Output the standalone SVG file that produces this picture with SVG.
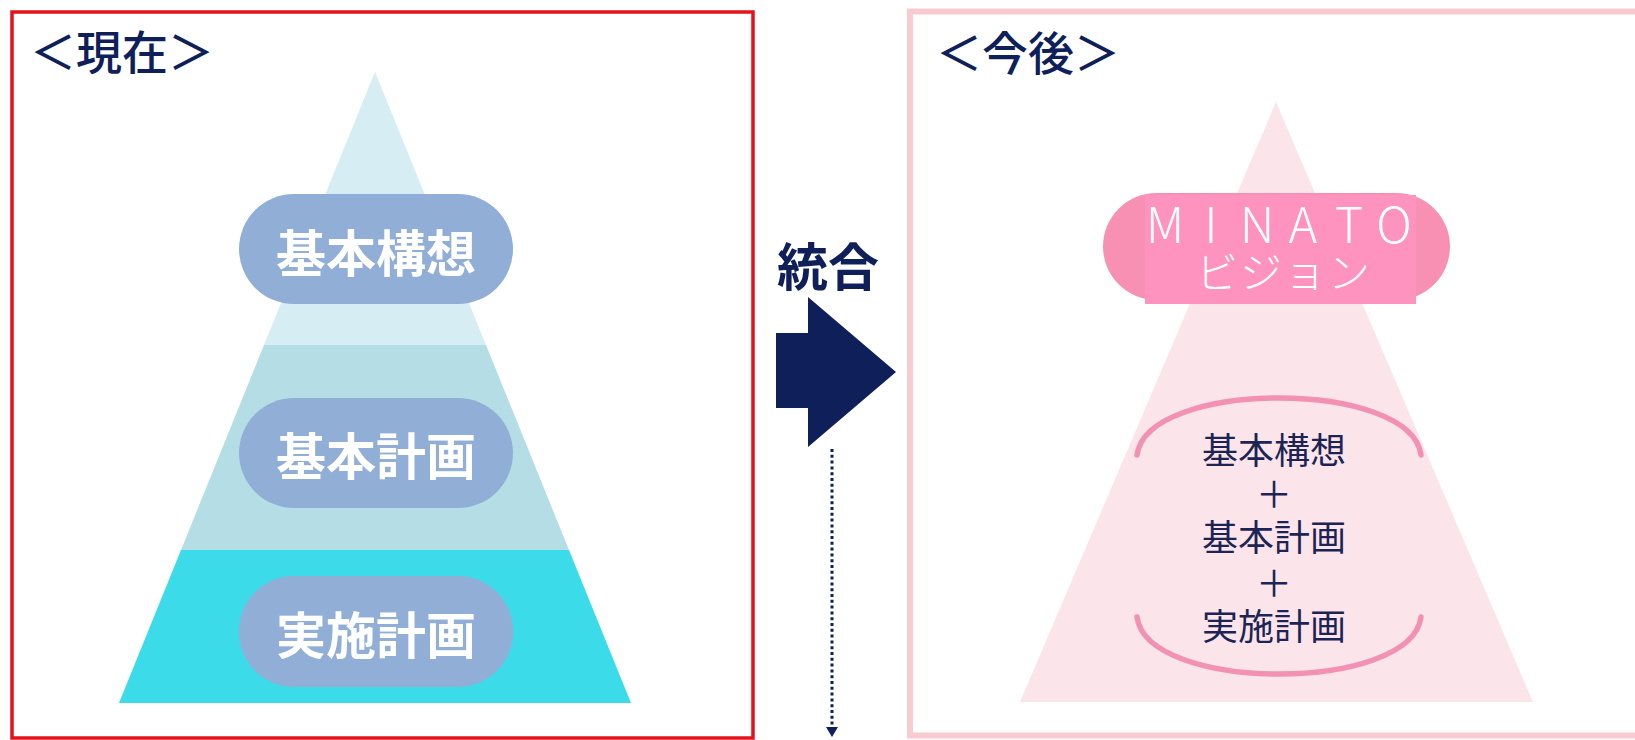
<svg xmlns="http://www.w3.org/2000/svg" width="1635" height="740" viewBox="0 0 1635 740">
  <defs>
    <style>
      .jp { font-family: "Noto Sans CJK JP", "Noto Sans", sans-serif; }
      .title { font-size: 46px; font-weight: 500; fill: #0f1f5a; }
      .pill { fill: #91afd6; }
      .pilltxt { font-size: 50px; font-weight: 700; fill: #ffffff; text-anchor: middle; }
      .rtxt { font-size: 36px; font-weight: 400; fill: #1b2454; text-anchor: middle; }
      .arc { fill: none; stroke: #f391b4; stroke-width: 5.5; stroke-linecap: round; }
      .thin { font-weight: 300; fill: #ffffff; text-anchor: middle; }
    </style>
    <marker id="ah" viewBox="0 0 10 12" refX="2" refY="6" markerWidth="10" markerHeight="12" markerUnits="userSpaceOnUse" orient="auto">
      <path d="M0,0 L10,6 L0,12 Z" fill="#0f1f5a"/>
    </marker>
  </defs>
  <rect x="0" y="0" width="1635" height="740" fill="#ffffff"/>

  <g id="panel-current">
    <rect x="12" y="12" width="741" height="726" fill="none" stroke="#e3121c" stroke-width="3.5"/>
    <text class="jp title" x="30" y="69">＜現在＞</text>
  </g>

  <g id="pyramid-current">
    <polygon points="375,72 264,345 486,345" fill="#d6edf3"/>
    <polygon points="264,345 486,345 569,550 181,550" fill="#b4dde6"/>
    <polygon points="181,550 569,550 631,703 119,703" fill="#3cdbea"/>
  </g>

  <g id="node-kihonkousou">
    <rect class="pill" x="239" y="194" width="274" height="110" rx="55"/>
    <text class="jp pilltxt" x="376" y="272">基本構想</text>
  </g>
  <g id="node-kihonkeikaku">
    <rect class="pill" x="239" y="398" width="274" height="110" rx="55"/>
    <text class="jp pilltxt" x="376" y="475">基本計画</text>
  </g>
  <g id="node-jisshikeikaku">
    <rect class="pill" x="239" y="576" width="274" height="111" rx="55"/>
    <text class="jp pilltxt" x="376" y="654">実施計画</text>
  </g>

  <g id="connectors">
    <text class="jp" x="828" y="286" font-size="51" font-weight="700" fill="#0f1f5a" text-anchor="middle">統合</text>
    <polygon points="776,333 808,333 808,297 896,372 808,447 808,408 776,408" fill="#0f1f5a"/>
    <line x1="832" y1="449" x2="832" y2="729" stroke="#0f1f5a" stroke-width="3" stroke-dasharray="3 2.8" marker-end="url(#ah)"/>
  </g>

  <g id="panel-future">
    <rect x="910" y="11.5" width="800" height="724" fill="none" stroke="#f9cbd1" stroke-width="6"/>
    <text class="jp title" x="936" y="70">＜今後＞</text>
  </g>

  <g id="pyramid-future">
    <polygon points="1276,102 1533,702 1020,702" fill="#fce4eb"/>
  </g>

  <g id="node-minato">
    <rect x="1103" y="193" width="347" height="107" rx="53.5" fill="#f890b4"/>
    <rect x="1145" y="195" width="271" height="109" fill="#fe93bf"/>
    <text class="jp thin" font-size="49" x="1165 1211 1257 1303 1349 1394" y="243">MINATO</text>
    <text class="jp thin" font-size="42" x="1217 1261 1305 1349" y="288">ビジョン</text>
  </g>

  <g id="node-integrated">
    <path class="arc" d="M1137,455 C1147,379 1411,379 1421,455"/>
    <path class="arc" d="M1137,617 C1147,693 1411,693 1421,617"/>
    <text class="jp rtxt" x="1274" y="464">基本構想</text>
    <text class="jp rtxt" x="1274" y="508">＋</text>
    <text class="jp rtxt" x="1274" y="551">基本計画</text>
    <text class="jp rtxt" x="1274" y="597">＋</text>
    <text class="jp rtxt" x="1274" y="640">実施計画</text>
  </g>
</svg>
